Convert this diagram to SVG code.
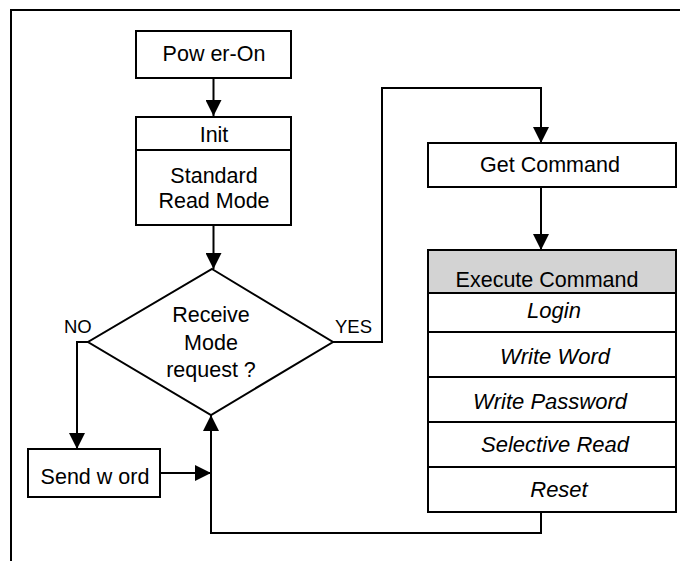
<svg xmlns="http://www.w3.org/2000/svg" width="680" height="561" viewBox="0 0 680 561">
<style>
.box{fill:#fff;stroke:#000;stroke-width:2}
.hdr{fill:#d3d3d3;stroke:#000;stroke-width:2}
.ln{fill:none;stroke:#000;stroke-width:2}
.t{font-family:"Liberation Sans",Arial,sans-serif;font-size:21.5px;fill:#000;text-anchor:middle}
.i{font-style:italic;font-size:22px}
.lbl{font-family:"Liberation Sans",Arial,sans-serif;font-size:18.5px;fill:#000}
</style>
<defs>
<marker id="ah" markerUnits="userSpaceOnUse" markerWidth="16" markerHeight="16" refX="16" refY="8" orient="auto">
<path d="M0,0 L16,8 L0,16 z" fill="#000"/>
</marker>
</defs>
<rect width="680" height="561" fill="#fff"/>
<path class="ln" d="M11,561 L11,10 L680,10"/>
<g id="connectors">
<path class="ln" d="M213.5,78 L213.5,116" marker-end="url(#ah)"/>
<path class="ln" d="M213.5,225 L213.5,269" marker-end="url(#ah)"/>
<path class="ln" d="M333,342 L382,342 L382,88 L541,88 L541,143" marker-end="url(#ah)"/>
<path class="ln" d="M541,187 L541,250" marker-end="url(#ah)"/>
<path class="ln" d="M541,512 L541,533 L211,533 L211,415" marker-end="url(#ah)"/>
<path class="ln" d="M88,342 L77,342 L77,449" marker-end="url(#ah)"/>
<path class="ln" d="M160,473 L211,473" marker-end="url(#ah)"/>
<text class="lbl" x="64" y="333">NO</text>
<text class="lbl" x="335" y="333">YES</text>
</g>
<g id="power-on">
<rect class="box" x="136" y="31" width="155" height="47"/>
<text class="t" x="214" y="61">Pow er-On</text>
</g>
<g id="init">
<rect class="box" x="136" y="117" width="155" height="108"/>
<line class="ln" x1="136" y1="150" x2="291" y2="150"/>
<text class="t" x="214" y="142">Init</text>
<text class="t" x="214" y="183">Standard</text>
<text class="t" x="214" y="208">Read Mode</text>
</g>
<g id="decision">
<polygon class="box" points="212,269 333,342 211,415 88,342"/>
<text class="t" x="211" y="322">Receive</text>
<text class="t" x="211" y="350">Mode</text>
<text class="t" x="211" y="377">request ?</text>
</g>
<g id="send-word">
<rect class="box" x="28" y="449" width="132" height="48"/>
<text class="t" x="95" y="484">Send w ord</text>
</g>
<g id="get-command">
<rect class="box" x="428" y="143" width="248" height="44"/>
<text class="t" x="550" y="172">Get Command</text>
</g>
<g id="execute-command">
<rect class="hdr" x="428" y="250" width="248" height="43"/>
<rect class="box" x="428" y="293" width="248" height="219"/>
<line class="ln" x1="428" y1="332" x2="676" y2="332"/>
<line class="ln" x1="428" y1="377" x2="676" y2="377"/>
<line class="ln" x1="428" y1="422" x2="676" y2="422"/>
<line class="ln" x1="428" y1="467" x2="676" y2="467"/>
<text class="t" x="547" y="287">Execute Command</text>
<text class="t i" x="554" y="318">Login</text>
<text class="t i" x="555" y="364">Write Word</text>
<text class="t i" x="550" y="409">Write Password</text>
<text class="t i" x="555" y="452">Selective Read</text>
<text class="t i" x="559" y="497">Reset</text>
</g>
</svg>
